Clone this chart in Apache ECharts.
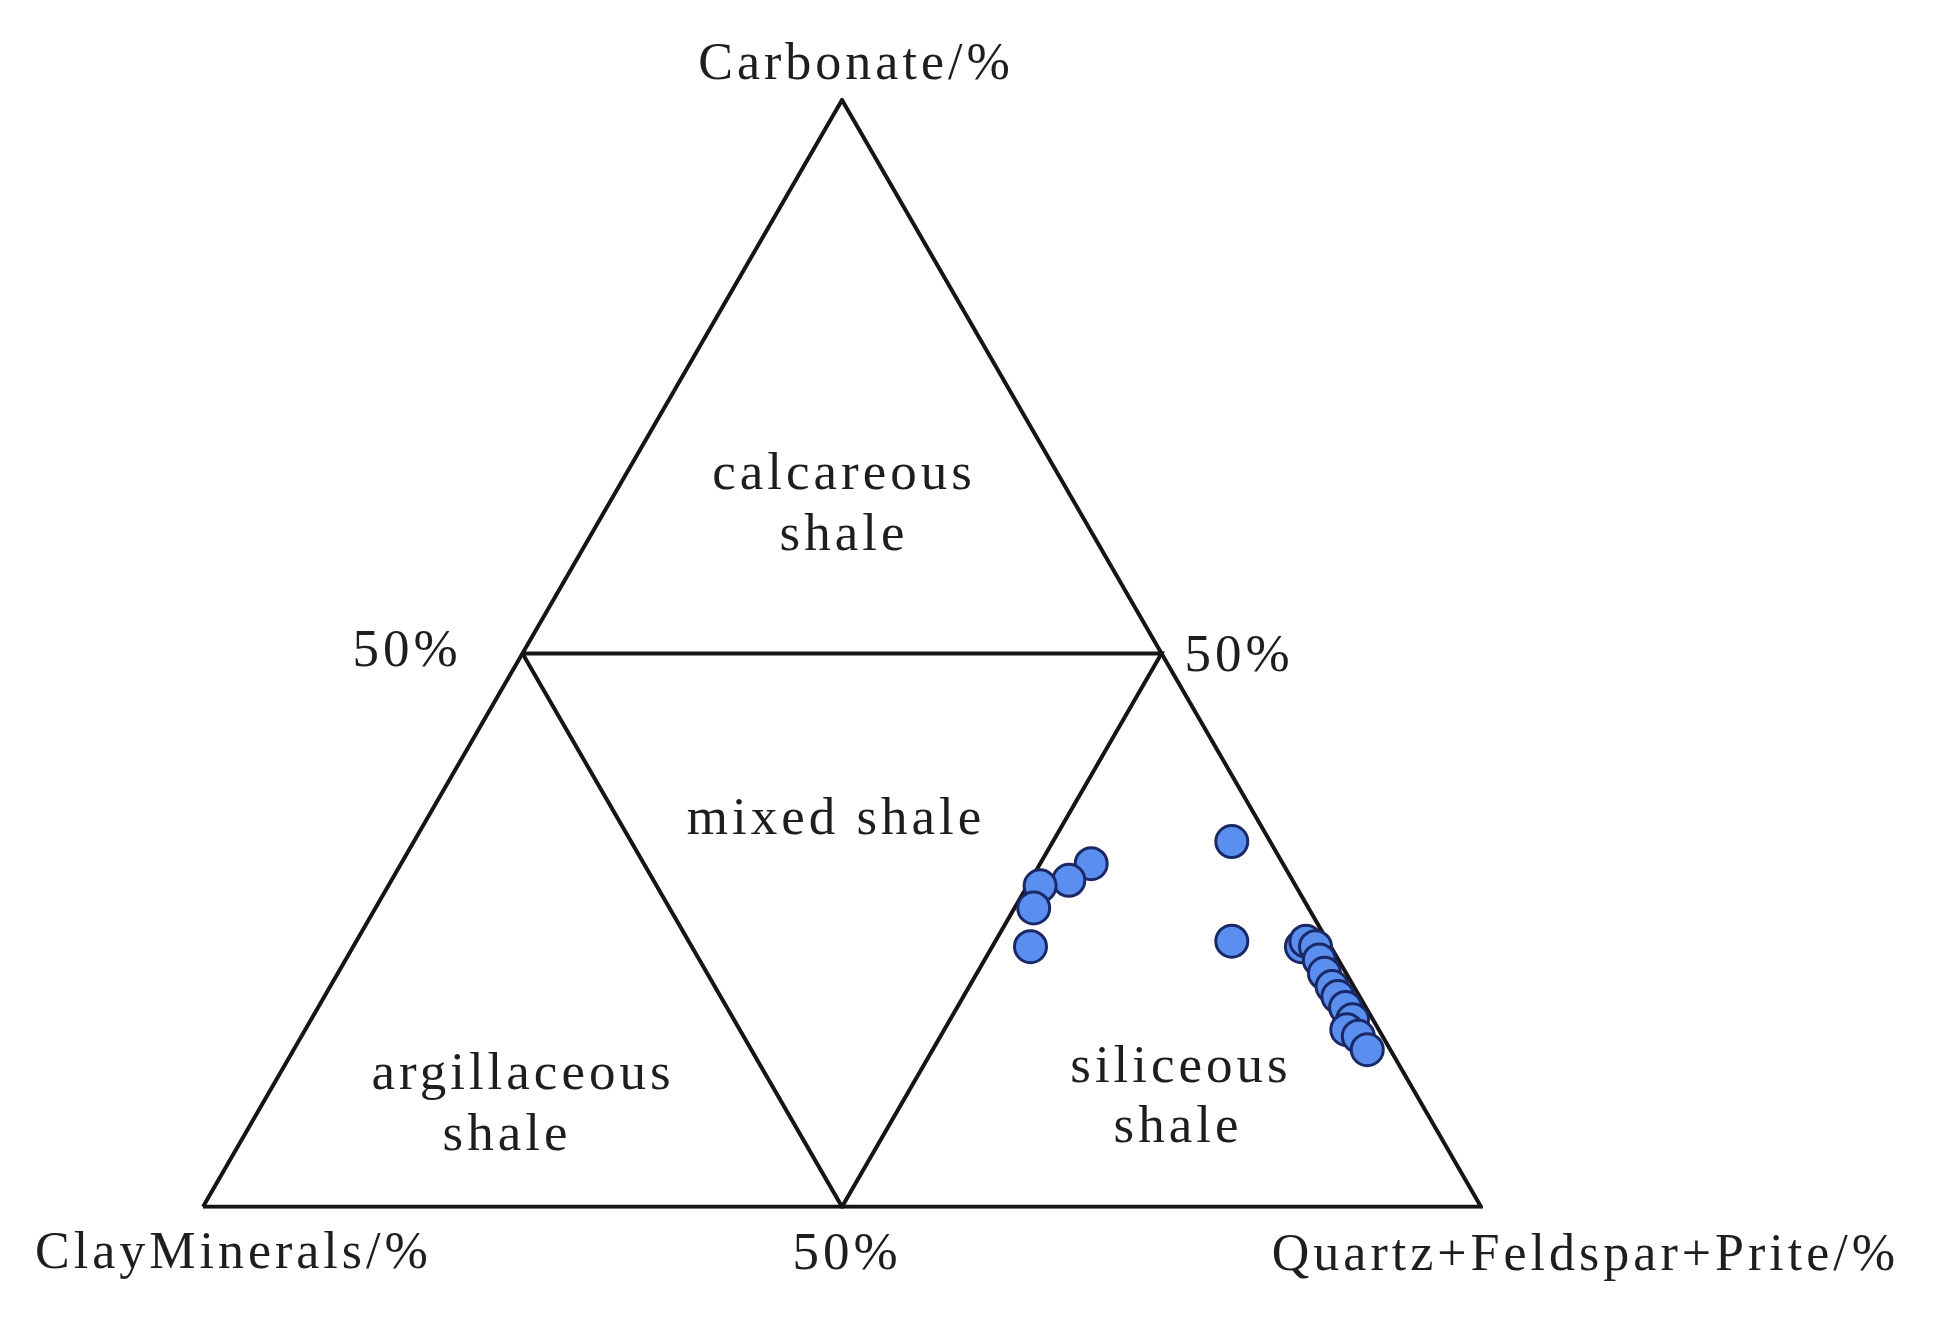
<!DOCTYPE html>
<html>
<head>
<meta charset="utf-8">
<script src="https://cdn.jsdelivr.net/npm/echarts@6/dist/echarts.min.js"></script>
<style>
html,body{margin:0;padding:0;background:#fff;}
#chart{width:1955px;height:1328px;}
</style>
</head>
<body>
<div id="chart"></div>
<script>
// Ternary compositions in percent: carbonate (top), quartz+feldspar+pyrite (bottom-right), clay (bottom-left)
const sampleCarbonate = [31, 29.5, 29, 27, 23.5, 33, 24, 23.5, 24, 23.5, 22.3, 21.1, 19.9, 19, 18, 16.9, 16, 15.4, 14.2];
const sampleQFP       = [54, 53, 51, 51.5, 53, 64, 68.5, 74.2, 74.3, 75.3, 76.2, 77.2, 78.4, 79.3, 80.4, 81.5, 81.5, 82.7, 84];
const sampleClay      = [15, 17.5, 20, 21.5, 23.5, 3, 7.5, 2.3, 1.7, 1.2, 1.5, 1.7, 1.7, 1.7, 1.6, 1.6, 2.5, 1.9, 1.8];

// boundary lines: [carbonate, qfp, clay] vertices
const outerTriangle = [[0, 0, 100], [0, 100, 0], [100, 0, 0], [0, 0, 100]];
const innerTriangle = [[50, 0, 50], [50, 50, 0], [0, 50, 50], [50, 0, 50]];

const vertexTitles = ['Carbonate/%', 'ClayMinerals/%', 'Quartz+Feldspar+Prite/%'];
const midLabels = ['50%', '50%', '50%'];
const fieldNames = ['calcareous', 'shale', 'mixed shale', 'argillaceous', 'shale', 'siliceous', 'shale'];

const H = Math.sqrt(3) / 2;
function toXY(c, q, l) {
  const s = c + q + l;
  const cc = c / s, qq = q / s;
  return [qq + cc / 2, cc * H];
}
const scatterData = sampleCarbonate.map((c, i) => toXY(c, sampleQFP[i], sampleClay[i]));
const outerData = outerTriangle.map(v => toXY(v[0], v[1], v[2]));
const innerData = innerTriangle.map(v => toXY(v[0], v[1], v[2]));

const FONT = "'Liberation Serif', 'Times New Roman', serif";
const TXT = '#1e1e1e';
function txt(x, y, text, size, align) {
  return {
    type: 'text', x: x, y: y, silent: true,
    style: { text: text, font: size + 'px ' + FONT, fill: TXT, align: align || 'center', verticalAlign: 'middle' }
  };
}

const chart = echarts.init(document.getElementById('chart'), null, { renderer: 'canvas' });
chart.setOption({
  backgroundColor: '#ffffff',
  animation: false,
  grid: { left: 203, top: 100, width: 1278, height: 1106.8, containLabel: false },
  xAxis: { type: 'value', min: 0, max: 1, show: false },
  yAxis: { type: 'value', min: 0, max: H, show: false },
  series: [
    {
      type: 'line', data: outerData, symbol: 'none', silent: true,
      lineStyle: { color: '#151515', width: 4, join: 'miter' }, z: 2
    },
    {
      type: 'line', data: innerData, symbol: 'none', silent: true,
      lineStyle: { color: '#151515', width: 4, join: 'miter' }, z: 2
    },
    {
      type: 'scatter', data: scatterData, symbol: 'circle', symbolSize: 32,
      itemStyle: { color: '#5a8ff0', borderColor: '#1a2966', borderWidth: 3, opacity: 1 }, z: 5
    }
  ],
  graphic: [
    txt(856, 65, vertexTitles[0], 52),
    txt(35, 1254, vertexTitles[1], 52, 'left'),
    txt(1899, 1256, vertexTitles[2], 52, 'right'),
    txt(407, 652, midLabels[0], 53),
    txt(1239, 657, midLabels[1], 53),
    txt(847, 1255, midLabels[2], 53),
    txt(844, 475, fieldNames[0], 53),
    txt(844, 536, fieldNames[1], 53),
    txt(836, 820, fieldNames[2], 53),
    txt(523, 1075, fieldNames[3], 53),
    txt(507, 1136, fieldNames[4], 53),
    txt(1181, 1068, fieldNames[5], 53),
    txt(1178, 1128, fieldNames[6], 53)
  ]
});

// widen the typeset text slightly, as in the original figure
try {
  const painter = chart.getZr().painter;
  if (painter && painter.eachLayer) {
    painter.eachLayer(function (layer) { if (layer.ctx && 'letterSpacing' in layer.ctx) layer.ctx.letterSpacing = '4px'; });
    painter.refresh(true);
  }
} catch (e) {}
</script>
</body>
</html>
